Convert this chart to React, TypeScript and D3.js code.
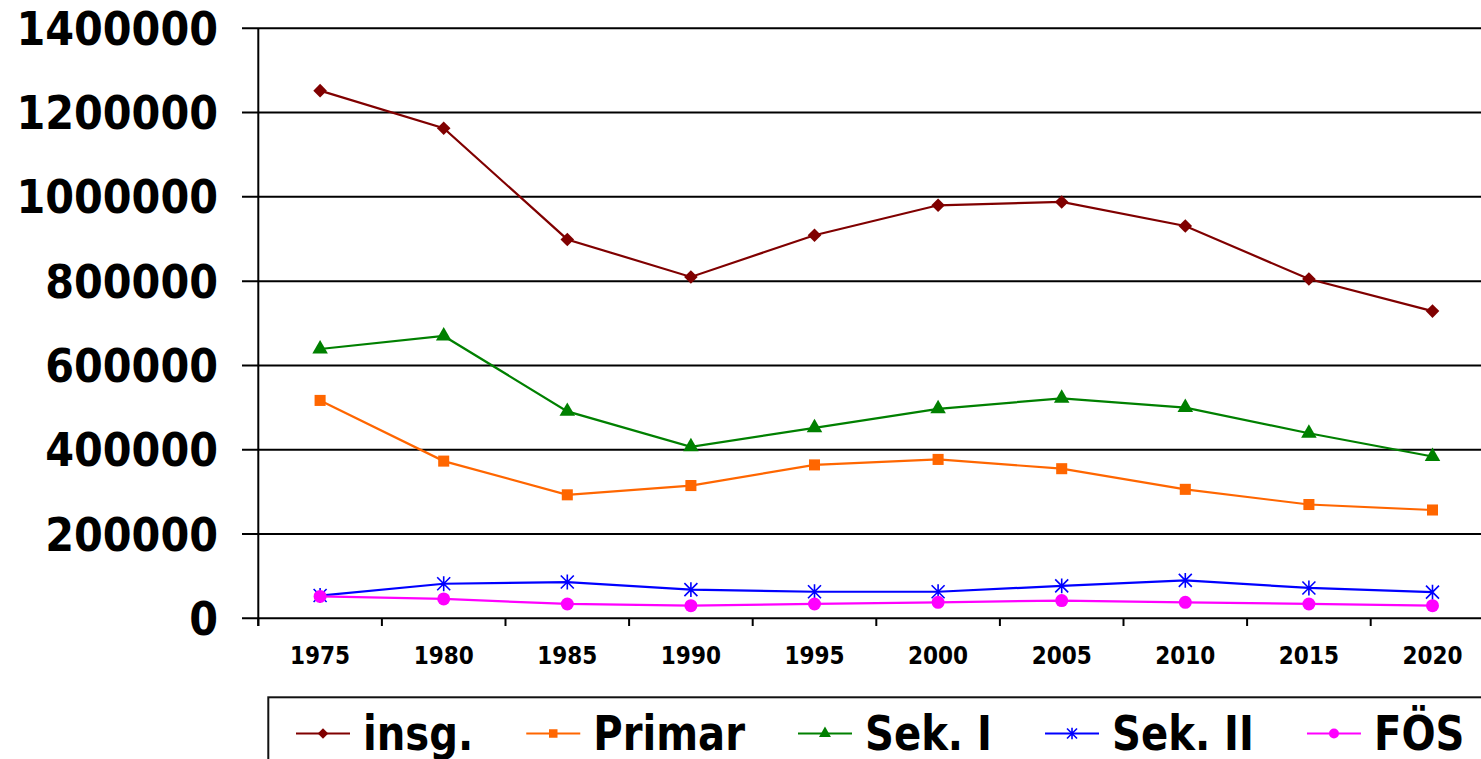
import { useEffect, useRef } from 'react';
import * as d3 from 'd3';

// Schülerzahlen nach Schulstufe, 1975-2020
const years = ['1975', '1980', '1985', '1990', '1995', '2000', '2005', '2010', '2015', '2020'];
const insg = [1252000, 1163000, 899000, 810000, 909000, 980000, 988000, 931000, 805000, 729000];
const primar = [517000, 373000, 293000, 315000, 364000, 377000, 355000, 306000, 270000, 257000];
const sekI = [639000, 670000, 491000, 407000, 452000, 497000, 522000, 500000, 439000, 384000];
const sekII = [54000, 82000, 86000, 68000, 63000, 63000, 77000, 90000, 72000, 62000];
const foes = [52000, 46000, 34000, 30000, 34000, 38000, 42000, 38000, 34000, 30000];
const yTicks = [0, 200000, 400000, 600000, 800000, 1000000, 1200000, 1400000];

const seriesNames = ['insg.', 'Primar', 'Sek. I', 'Sek. II', 'FÖS'];
const seriesColors = ['#800000', '#FF6600', '#008000', '#0000FF', '#FF00FF'];
const seriesMarkers = ['diamond', 'square', 'triangle', 'star', 'circle'];
const seriesValues = [insg, primar, sekI, sekII, foes];

const FONT = "'DejaVu Sans', Verdana, sans-serif";

const drawMarker = (g: any, kind: string, x: number, y: number, color: string, s: number) => {
    if (kind === 'star') {
        const h = s / 2;
        g.append('path')
            .attr('d', `M${x - h},${y - h}L${x + h},${y + h}M${x - h},${y + h}L${x + h},${y - h}M${x},${y - h * 1.15}L${x},${y + h * 1.15}`)
            .attr('stroke', color)
            .attr('stroke-width', 1.6)
            .attr('fill', 'none');
        return;
    }
    let sym: any = d3.symbolSquare;
    let area = s * s;
    let rot = 0;
    if (kind === 'diamond') { sym = d3.symbolSquare; area = (s * 0.74) * (s * 0.74); rot = 45; }
    if (kind === 'square') { sym = d3.symbolSquare; area = (s * 0.85) * (s * 0.85); }
    if (kind === 'triangle') { sym = d3.symbolTriangle; area = s * s * 0.62; }
    if (kind === 'circle') { sym = d3.symbolCircle; area = Math.PI * (s / 2) * (s / 2); }
    g.append('path')
        .attr('d', d3.symbol().type(sym).size(area)())
        .attr('transform', `translate(${x},${y}) rotate(${rot})`)
        .attr('fill', color);
};

const App = () => {
    const svgRef = useRef<SVGSVGElement>(null);

    useEffect(() => {
        const width = 1481;
        const height = 759;
        const svg = d3.select(svgRef.current);
        svg.selectAll('*').remove();
        svg.attr('width', width).attr('height', height);

        const left = 258.3;
        const x = d3.scaleBand().domain(years).range([left, left + 123.6 * years.length]).padding(0);
        const y = d3.scaleLinear().domain([0, 1400000]).range([618.3, 28.3]);

        // gridlines + y labels
        yTicks.forEach(t => {
            svg.append('line')
                .attr('x1', 242).attr('x2', width)
                .attr('y1', y(t)).attr('y2', y(t))
                .attr('stroke', '#000')
                .attr('stroke-width', 2);
            svg.append('text')
                .attr('x', 218)
                .attr('y', y(t))
                .attr('dy', '0.36em')
                .attr('text-anchor', 'end')
                .style('font-family', FONT)
                .style('font-stretch', 'condensed')
                .style('font-weight', 'bold')
                .style('font-size', '46px')
                .text(String(t));
        });

        // y axis line
        svg.append('line')
            .attr('x1', left).attr('x2', left)
            .attr('y1', y(1400000)).attr('y2', 626)
            .attr('stroke', '#000').attr('stroke-width', 2);

        // x ticks between categories + labels
        years.forEach(yr => {
            const bx = x(yr) as number;
            svg.append('line')
                .attr('x1', bx).attr('x2', bx)
                .attr('y1', y(0)).attr('y2', 626)
                .attr('stroke', '#000').attr('stroke-width', 2);
            svg.append('text')
                .attr('x', bx + x.bandwidth() / 2)
                .attr('y', 664)
                .attr('text-anchor', 'middle')
                .style('font-family', FONT)
                .style('font-stretch', 'condensed')
                .style('font-weight', 'bold')
                .style('font-size', '24px')
                .text(yr);
        });

        const cx = (yr: string) => (x(yr) as number) + x.bandwidth() / 2;

        // series lines + markers
        seriesValues.forEach((vals, si) => {
            const line = d3.line<number>()
                .x((_, i) => cx(years[i]))
                .y(v => y(v));
            svg.append('path')
                .attr('d', line(vals))
                .attr('fill', 'none')
                .attr('stroke', seriesColors[si])
                .attr('stroke-width', 2.2);
            const mg = svg.append('g');
            vals.forEach((v, i) => {
                drawMarker(mg, seriesMarkers[si], cx(years[i]), y(v), seriesColors[si], 13);
            });
        });

        // legend box
        const lg = svg.append('g');
        lg.append('rect')
            .attr('x', 268.3).attr('y', 697.3)
            .attr('width', 1400).attr('height', 120)
            .attr('fill', '#fff')
            .attr('stroke', '#111')
            .attr('stroke-width', 2);

        let lx = 296;
        const ly = 733.5;
        const squeeze = 0.93;
        seriesNames.forEach((name, si) => {
            lg.append('line')
                .attr('x1', lx).attr('x2', lx + 54)
                .attr('y1', ly).attr('y2', ly)
                .attr('stroke', seriesColors[si])
                .attr('stroke-width', 2);
            drawMarker(lg, seriesMarkers[si], lx + 27, ly, seriesColors[si], 10);
            const t = lg.append('text')
                .attr('transform', `translate(${lx + 67},750) scale(${squeeze},1)`)
                .style('font-family', FONT)
                .style('font-stretch', 'condensed')
                .style('font-weight', 'bold')
                .style('font-size', '48px')
                .text(name);
            const w = (t.node() as SVGTextElement).getComputedTextLength() * squeeze;
            lx = lx + 67 + w + 53;
        });
    }, []);

    return (
        <div style={{ position: 'absolute', left: 0, top: 0, background: '#fff' }}>
            <svg ref={svgRef} style={{ display: 'block' }} />
        </div>
    );
};

export default App;
